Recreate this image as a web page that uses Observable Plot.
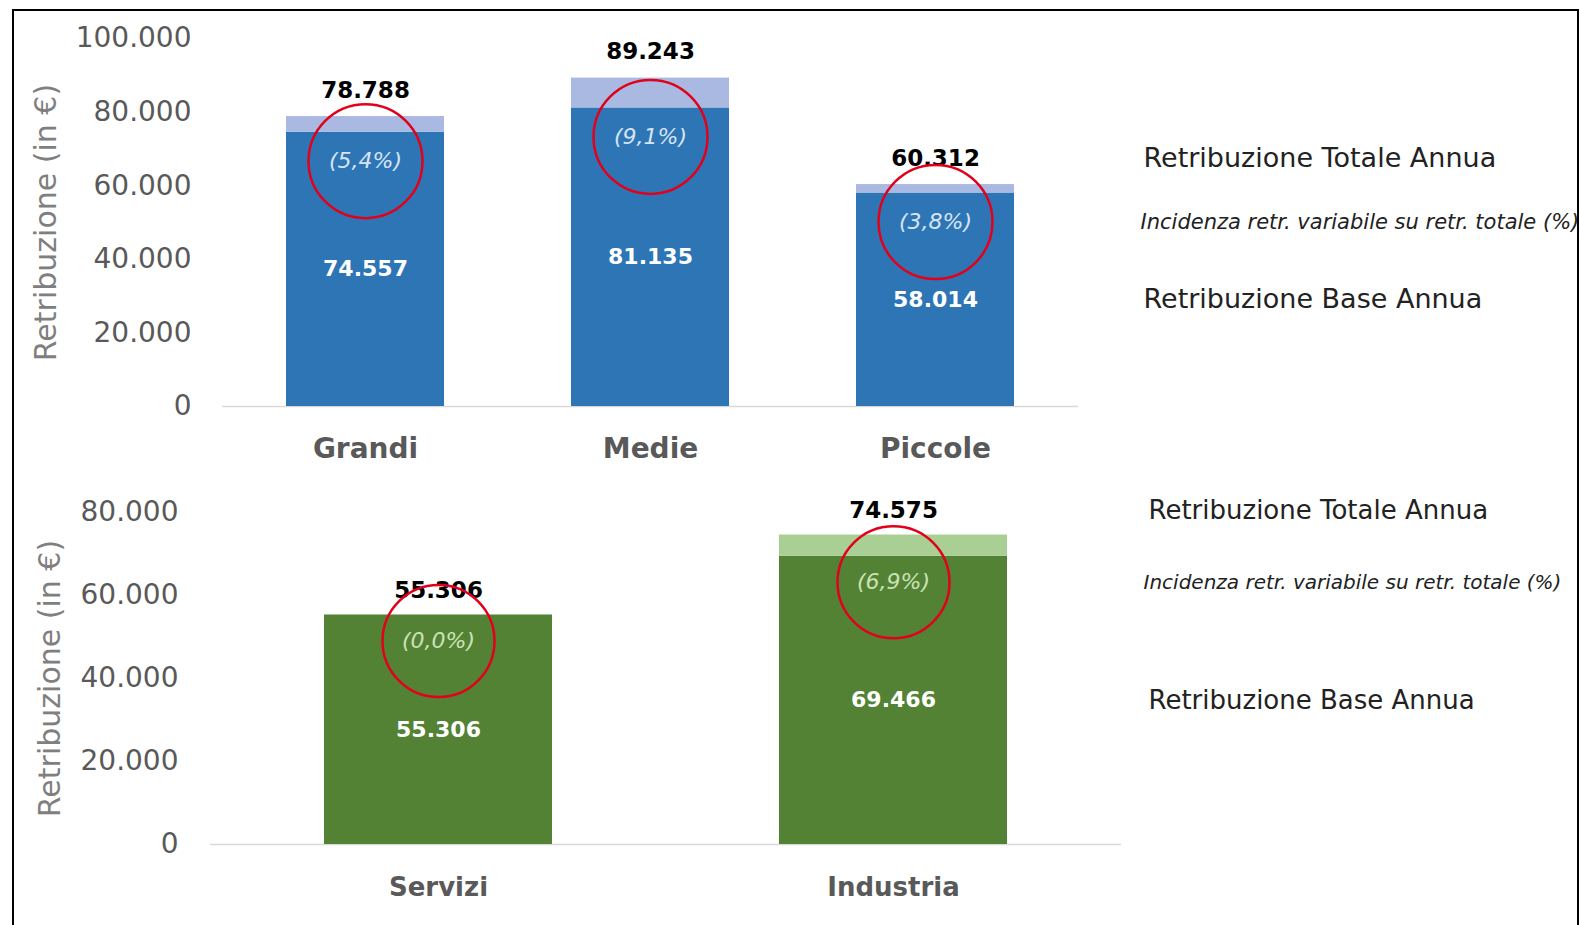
<!DOCTYPE html>
<html>
<head>
<meta charset="utf-8">
<script src="https://cdn.jsdelivr.net/npm/d3@7"></script>
<script src="https://cdn.jsdelivr.net/npm/@observablehq/plot@0.6"></script>
<style>
  html, body { margin: 0; padding: 0; background: #fff; }
  body { width: 1580px; height: 925px; position: relative; overflow: hidden; font-family: "DejaVu Sans", sans-serif; }
  #top, #bottom { position: absolute; left: 0; }
  #top { top: 0; }
  #bottom { top: 466px; }
  #frame { position: absolute; left: 12px; top: 9px; width: 1563px; height: 930px; border: 2px solid #000; pointer-events: none; }
</style>
</head>
<body>
<div id="top"></div>
<div id="bottom"></div>
<div id="frame"></div>
<script>
// ---- data ----
const sizeCats = ["Grandi", "Medie", "Piccole"];
const sizeBase = [74557, 81135, 58014];
const sizeTotal = [78788, 89243, 60312];
const sizePct = [5.4, 9.1, 3.8];

const sectorCats = ["Servizi", "Industria"];
const sectorBase = [55306, 69466];
const sectorTotal = [55306, 74575];
const sectorPct = [0.0, 6.9];

const topTicks = [0, 20000, 40000, 60000, 80000, 100000];
const bottomTicks = [0, 20000, 40000, 60000, 80000];
const yLabel = "Retribuzione (in €)";
const sideLabels = ["Retribuzione Totale Annua", "Incidenza retr. variabile su retr. totale (%)", "Retribuzione Base Annua"];

// ---- helpers ----
const loc = d3.formatLocale({decimal: ",", thousands: ".", grouping: [3], currency: ["€", ""]});
const fmt = loc.format(",d");
const pctFmt = v => "(" + loc.format(".1f")(v) + "%)";

function rows(cats, base, total, pct) {
  return cats.map((c, i) => ({cat: c, base: base[i], total: total[i], pct: pct[i]}));
}

function chart(o) {
  const data = rows(o.cats, o.base, o.total, o.pct);
  const last = [data[data.length - 1]];
  return Plot.plot({
    width: 1580,
    height: o.height,
    marginLeft: o.ml, marginRight: o.mr, marginTop: o.mt, marginBottom: o.mb,
    style: {fontFamily: "DejaVu Sans, sans-serif", color: "#595959", background: "transparent", overflow: "visible"},
    x: {domain: o.cats, paddingInner: o.pi, paddingOuter: o.po, axis: null},
    y: {domain: o.ydomain, axis: null},
    marks: [
      Plot.ruleY([0], {stroke: "#D9D9D9", strokeWidth: 1.5}),
      Plot.barY(data, {x: "cat", y1: 0, y2: "base", fill: o.dark}),
      Plot.barY(data, {x: "cat", y1: "base", y2: "total", fill: o.light}),
      Plot.axisY({ticks: o.ticks, tickSize: 0, tickPadding: o.tp, tickFormat: fmt, fontSize: 28, fill: "#595959", label: null}),
      Plot.axisY({ticks: [], tickSize: 0, fontSize: 30, fill: "#7f7f7f",
        label: yLabel, labelAnchor: "center", labelArrow: "none", labelOffset: o.lo}),
      Plot.axisX({tickSize: 0, tickPadding: o.xp, fontSize: o.xSize, fontWeight: "bold", label: null, fill: "#595959"}),
      Plot.text(data, {x: "cat", y: "total", text: d => fmt(d.total), dy: o.totalDy, fontSize: 23, fontWeight: "bold", fill: "#000"}),
      Plot.text(data, {x: "cat", y: d => d.base / 2, text: d => fmt(d.base), fontSize: 22, fontWeight: "bold", fill: "#fff"}),
      Plot.text(data, {x: "cat", y: "base", text: d => pctFmt(d.pct), dy: o.pctDy, fontSize: 22, fontStyle: "italic", fill: o.pctColor}),
      Plot.dot(data, {x: "cat", y: "base", dy: o.pctDy, r: o.r, stroke: "#E2001A", strokeWidth: 2.5, fill: "none"}),
      Plot.text(last, {x: "cat", y: "total", text: () => sideLabels[0], dx: o.sideDx, dy: o.totalDy, textAnchor: "start", fontSize: o.sideSize, fill: "#222"}),
      Plot.text(last, {x: "cat", y: "base", text: () => sideLabels[1], dx: o.sideDx2, dy: o.pctDy, textAnchor: "start", fontSize: o.sideSmall, fontStyle: "italic", fill: "#222"}),
      Plot.text(last, {x: "cat", y: d => d.base / 2, text: () => sideLabels[2], dx: o.sideDx, textAnchor: "start", fontSize: o.sideSize, fill: "#222"})
    ]
  });
}

const topEl = chart({
  cats: sizeCats, base: sizeBase, total: sizeTotal, pct: sizePct,
  height: 466, ml: 222, mr: 502, mt: 38, mb: 60,
  pi: 0.444, po: 0.22, ydomain: [0, 100000], ticks: topTicks, tp: 31, lo: 188,
  xp: 32, xSize: 28,
  dark: "#2E75B6", light: "#A9B9E1", pctColor: "#D6E4F5",
  totalDy: -26, pctDy: 29, r: 57, sideDx: 208, sideDx2: 205, sideSize: 27, sideSmall: 21
});
const bottomEl = chart({
  cats: sectorCats, base: sectorBase, total: sectorTotal, pct: sectorPct,
  height: 459, ml: 210, mr: 459, mt: 46, mb: 81,
  pi: 0.5, po: 0.25, ydomain: [0, 80000], ticks: bottomTicks, tp: 32, lo: 172,
  xp: 33, xSize: 26,
  dark: "#548235", light: "#A9CF94", pctColor: "#C9E3B5",
  totalDy: -24, pctDy: 26, r: 56, sideDx: 255, sideDx2: 250, sideSize: 26, sideSmall: 20
});
document.getElementById("top").appendChild(topEl);
document.getElementById("bottom").appendChild(bottomEl);
</script>
</body>
</html>
